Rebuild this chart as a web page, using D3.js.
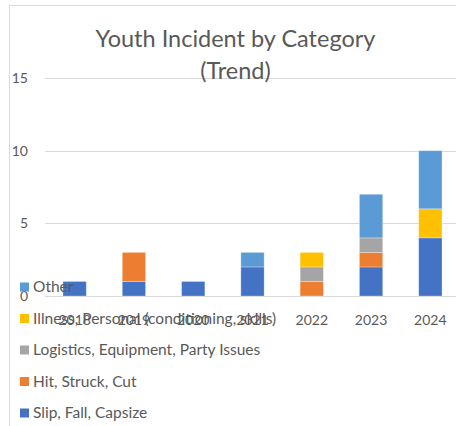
<!DOCTYPE html>
<html><head><meta charset="utf-8">
<script src="https://cdn.jsdelivr.net/npm/d3@7"></script>
<style>body{margin:0;background:#fff}svg{display:block}</style>
</head><body>
<svg id="c" width="456" height="426"></svg>
<script>
const years = ["2018","2019","2020","2021","2022","2023","2024"];
const seriesNames = ["Slip, Fall, Capsize","Hit, Struck, Cut","Logistics, Equipment, Party Issues","Illness, Personal (conditioning, skills)","Other"];
const slip      = [1,1,1,2,0,2,4];
const hit       = [0,2,0,0,1,1,0];
const logistics = [0,0,0,0,1,1,0];
const illness   = [0,0,0,0,1,0,2];
const other     = [0,0,0,1,0,3,4];
const yTicks = [0,5,10,15];
const colors = ["#4472C4","#ED7D31","#A5A5A5","#FFC000","#5B9BD5"];
const titleLines = ["Youth Incident by Category","(Trend)"];

const svg = d3.select("#c");
const font = "Lato, 'Open Sans', sans-serif";
const txt = "#595959";

// chart frame
svg.append("path").attr("d","M9.5,426 V5.5 H456").attr("fill","none").attr("stroke","#d9d9d9").attr("stroke-width",1);

const x = d3.scaleBand().domain(years).range([45, 460]).paddingInner(0.607).paddingOuter(0.3035);
const y = d3.scaleLinear().domain([0,15]).range([296,78]);

// gridlines
svg.append("g").selectAll("line").data(yTicks).join("line")
  .attr("x1",45).attr("x2",456)
  .attr("y1",d=>Math.round(y(d))+0.5).attr("y2",d=>Math.round(y(d))+0.5)
  .attr("stroke","#d9d9d9").attr("stroke-width",1);

// stacked data
const rows = years.map((yr,i)=>({year:yr, s0:slip[i], s1:hit[i], s2:logistics[i], s3:illness[i], s4:other[i]}));
const stack = d3.stack().keys(["s0","s1","s2","s3","s4"])(rows);
svg.append("g").selectAll("g").data(stack).join("g")
  .attr("fill",(d,i)=>colors[i])
  .selectAll("rect").data(d=>d.filter(p=>p[1]>p[0])).join("rect")
  .attr("x",d=>x(d.data.year)).attr("width",x.bandwidth())
  .attr("y",d=>y(d[1])).attr("height",d=>y(d[0])-y(d[1]))
  .attr("stroke","rgba(255,255,255,0.35)").attr("stroke-width",0.8);

// y tick labels
svg.append("g").selectAll("text").data(yTicks).join("text")
  .attr("x",28).attr("y",d=>y(d)).attr("dy","0.35em")
  .attr("text-anchor","end").attr("font-family",font).attr("font-size",14).attr("fill",txt)
  .text(d=>d);

// x labels
svg.append("g").selectAll("text").data(years).join("text")
  .attr("x",d=>x(d)+x.bandwidth()/2).attr("y",320).attr("dy","0.35em")
  .attr("text-anchor","middle").attr("font-family",font).attr("font-size",14).attr("fill",txt)
  .text(d=>d);

// title
svg.append("g").selectAll("text").data(titleLines).join("text")
  .attr("x",235.5).attr("y",(d,i)=>47+i*32)
  .attr("text-anchor","middle").attr("font-family",font).attr("font-size",23.5).attr("fill",txt)
  .text(d=>d);

// legend (top to bottom reversed order)
const legendOrder = [4,3,2,1,0];
const lg = svg.append("g").selectAll("g").data(legendOrder).join("g")
  .attr("transform",(d,i)=>`translate(20,${287+i*31.5})`);
lg.append("rect").attr("x",0).attr("y",-4.5).attr("width",9).attr("height",9).attr("fill",d=>colors[d]);
lg.append("text").attr("x",13).attr("y",0).attr("dy","0.35em")
  .attr("font-family",font).attr("font-size",15.5).attr("fill",txt)
  .text(d=>seriesNames[d]);
</script>
</body></html>
